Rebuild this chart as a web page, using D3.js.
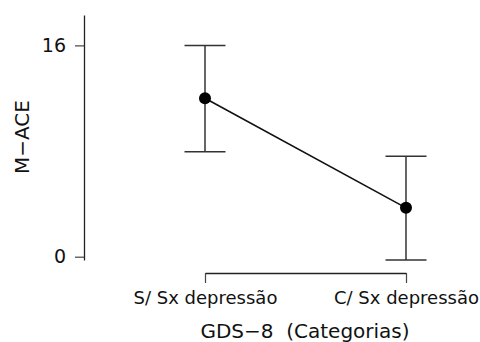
<!DOCTYPE html>
<html>
<head>
<meta charset="utf-8">
<script src="https://cdn.jsdelivr.net/npm/d3@7"></script>
<style>
  html, body { margin: 0; padding: 0; background: #fff; }
  svg { display: block; font-family: "DejaVu Sans", sans-serif; }
  text { white-space: pre; }
</style>
</head>
<body>
<svg id="chart" width="480" height="342"></svg>
<script>
const categories = ["S/ Sx depressão", "C/ Sx depressão"];
const means = [12.0, 3.7];
const lower = [7.95, -0.25];
const upper = [16.0, 7.6];
const yTicks = [0, 16];
const xTitle = "GDS\u22128  (Categorias)";
const yTitle = "M\u2212ACE";

const svg = d3.select("#chart");
const data = categories.map((c, i) => ({ c, m: means[i], lo: lower[i], hi: upper[i] }));

const y = d3.scaleLinear().domain([-0.25, 18.3]).range([260, 15]);
const x = d3.scalePoint().domain(categories).range([205, 406]);

// Y axis
const yAxis = svg.append("g").attr("transform", "translate(84,0)")
  .call(d3.axisLeft(y).tickValues(yTicks).tickSize(9).tickSizeOuter(0).tickPadding(9).tickFormat(d3.format("d")));
yAxis.select(".domain").attr("stroke", "#222").attr("stroke-width", 1.3);
yAxis.selectAll(".tick line").attr("stroke", "#444").attr("stroke-width", 1.2);
yAxis.selectAll(".tick text").attr("font-size", 19).attr("fill", "#111").attr("font-family", "DejaVu Sans");

// X axis
const xAxis = svg.append("g").attr("transform", "translate(0,273)")
  .call(d3.axisBottom(x).tickSize(10).tickSizeOuter(0).tickPadding(8));
xAxis.select(".domain").attr("stroke", "#222").attr("stroke-width", 1.3);
xAxis.selectAll(".tick line").attr("stroke", "#444").attr("stroke-width", 1.2);
xAxis.selectAll(".tick text").attr("font-size", 18).attr("fill", "#111").attr("font-family", "DejaVu Sans");

// Titles
svg.append("text").attr("x", 305).attr("y", 338).attr("text-anchor", "middle")
  .attr("font-size", 20).attr("fill", "#111").text(xTitle);
svg.append("text").attr("transform", "translate(29,137) rotate(-90)").attr("text-anchor", "middle")
  .attr("font-size", 20).attr("fill", "#111").text(yTitle);

// Error bars
const eb = svg.append("g").selectAll("g").data(data).join("g");
eb.append("line").attr("x1", d => x(d.c)).attr("x2", d => x(d.c))
  .attr("y1", d => y(d.lo)).attr("y2", d => y(d.hi)).attr("stroke", "#333").attr("stroke-width", 1.5);
eb.append("line").attr("x1", d => x(d.c) - 20.5).attr("x2", d => x(d.c) + 20.5)
  .attr("y1", d => y(d.hi)).attr("y2", d => y(d.hi)).attr("stroke", "#333").attr("stroke-width", 1.5);
eb.append("line").attr("x1", d => x(d.c) - 20.5).attr("x2", d => x(d.c) + 20.5)
  .attr("y1", d => y(d.lo)).attr("y2", d => y(d.lo)).attr("stroke", "#333").attr("stroke-width", 1.5);

// Line
svg.append("path").datum(data)
  .attr("d", d3.line().x(d => x(d.c)).y(d => y(d.m)))
  .attr("fill", "none").attr("stroke", "#111").attr("stroke-width", 1.6);

// Points
svg.append("g").selectAll("circle").data(data).join("circle")
  .attr("cx", d => x(d.c)).attr("cy", d => y(d.m)).attr("r", 6).attr("fill", "#000");
</script>
</body>
</html>
